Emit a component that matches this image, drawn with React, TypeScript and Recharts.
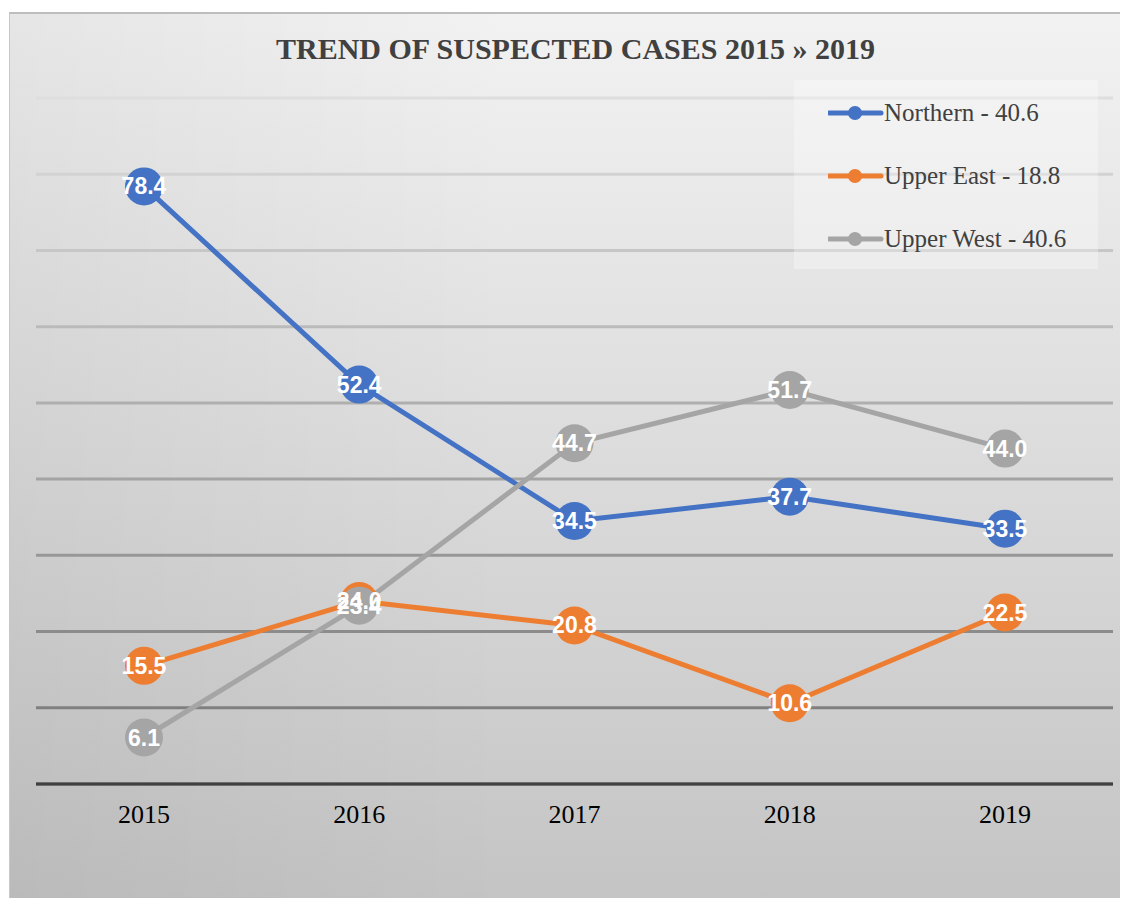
import React from "react";
import { LineChart, Line, XAxis, YAxis, CartesianGrid, LabelList } from "recharts";

const years = ["2015", "2016", "2017", "2018", "2019"];
const northern = [78.4, 52.4, 34.5, 37.7, 33.5];
const upperEast = [15.5, 24.0, 20.8, 10.6, 22.5];
const upperWest = [6.1, 23.4, 44.7, 51.7, 44.0];
const yTicks = [0, 10, 20, 30, 40, 50, 60, 70, 80, 90];
const title = "TREND OF SUSPECTED CASES 2015 » 2019";

const series = [
  { key: "northern", name: "Northern - 40.6", color: "#4472C4" },
  { key: "upperEast", name: "Upper East - 18.8", color: "#ED7D31" },
  { key: "upperWest", name: "Upper West - 40.6", color: "#A5A5A5" },
];

const data = years.map((y, i) => ({
  year: y,
  northern: northern[i],
  upperEast: upperEast[i],
  upperWest: upperWest[i],
}));

const W = 1111;
const H = 886;

const renderTick = (props: any) => {
  const { x, y, payload } = props;
  return (
    <text
      x={x}
      y={y + 39}
      textAnchor="middle"
      fontFamily="'Liberation Serif', 'Times New Roman', serif"
      fontSize={26}
      fill="#000"
    >
      {payload.value}
    </text>
  );
};

const renderLabel = (props: any) => {
  const { x, y, value } = props;
  if (x == null || y == null) return null;
  return (
    <text
      x={x}
      y={y}
      dy={8}
      textAnchor="middle"
      fontFamily="'Liberation Sans', Arial, sans-serif"
      fontWeight="bold"
      fontSize={23}
      fill="#FFFFFF"
    >
      {Number(value).toFixed(1)}
    </text>
  );
};

const LegendBox = () => (
  <div
    style={{
      position: "absolute",
      left: 784,
      top: 66,
      width: 304,
      height: 189,
      background: "rgba(255,255,255,0.3)",
    }}
  >
    {series.map((s, i) => (
      <div
        key={s.key}
        style={{
          position: "absolute",
          left: 34,
          top: 18 + i * 63,
          height: 30,
          display: "flex",
          alignItems: "center",
          whiteSpace: "nowrap",
        }}
      >
        <svg width={56} height={20} style={{ display: "block" }}>
          <line x1={1} y1={10} x2={53} y2={10} stroke={s.color} strokeWidth={5} strokeLinecap="round" />
          <circle cx={27} cy={10} r={7} fill={s.color} />
        </svg>
        <span
          style={{
            fontFamily: "'Liberation Serif', 'Times New Roman', serif",
            fontSize: 25,
            color: "#404040",
          }}
        >
          {s.name}
        </span>
      </div>
    ))}
  </div>
);

export default function App() {
  return (
    <div
      style={{
        position: "absolute",
        left: 9,
        top: 12,
        width: W,
        height: H,
        boxSizing: "border-box",
        borderTop: "2px solid #bdbdbd",
        borderLeft: "1px solid #c8c8c8",
        background:
          "linear-gradient(to right, rgba(0,0,0,0.05), rgba(0,0,0,0) 45%), linear-gradient(to bottom, #f2f2f2 0%, #dedede 45%, #c4c4c4 100%)",
        overflow: "hidden",
      }}
    >
      <div
        style={{
          position: "absolute",
          left: 10,
          top: 20,
          width: W,
          textAlign: "center",
          fontFamily: "'Liberation Serif', 'Times New Roman', serif",
          fontWeight: "bold",
          fontSize: 30,
          color: "#404040",
          lineHeight: "30px",
          whiteSpace: "nowrap",
        }}
      >
        {title}
      </div>
      <div style={{ position: "absolute", left: -1, top: -2 }}>
        <LineChart
          width={W}
          height={H}
          data={data}
          margin={{ top: 86, right: 7, bottom: 74, left: 27 }}
        >
          <defs>
            <linearGradient id="gridGrad" gradientUnits="userSpaceOnUse" x1={0} y1={86} x2={0} y2={771}>
              <stop offset="0%" stopColor="#dedede" />
              <stop offset="100%" stopColor="#747474" />
            </linearGradient>
          </defs>
          <CartesianGrid vertical={false} stroke="url(#gridGrad)" strokeWidth={3} />
          <XAxis
            dataKey="year"
            axisLine={{ stroke: "#404040", strokeWidth: 3 }}
            tickLine={false}
            tickSize={0}
            tickMargin={0}
            height={40}
            tick={renderTick}
            interval={0}
            padding={{ left: 108, right: 108 }}
          />
          <YAxis hide domain={[0, 90]} ticks={yTicks} width={0} />
          {series.map((s) => (
            <Line
              key={s.key}
              type="linear"
              dataKey={s.key}
              name={s.name}
              stroke={s.color}
              strokeWidth={5}
              dot={{ r: 19, fill: s.color, stroke: "none", strokeWidth: 0 }}
              activeDot={false}
              isAnimationActive={false}
            >
              <LabelList dataKey={s.key} content={renderLabel} />
            </Line>
          ))}
        </LineChart>
      </div>
      <LegendBox />
    </div>
  );
}
